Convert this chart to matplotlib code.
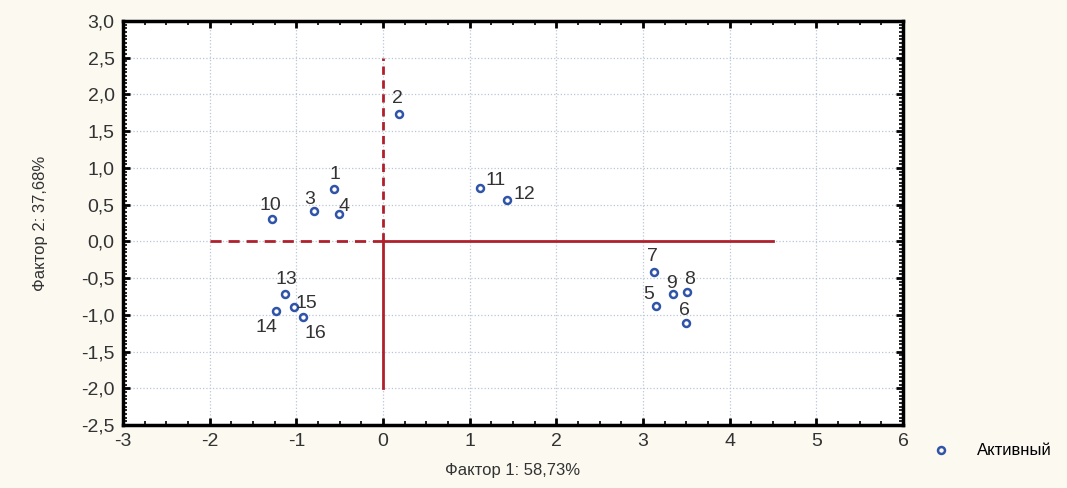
import matplotlib.pyplot as plt
from matplotlib.ticker import MultipleLocator, FuncFormatter

plt.rcParams['font.family'] = ['Liberation Sans', 'DejaVu Sans']

labels = ['1', '2', '3', '4', '5', '6', '7', '8', '9', '10', '11', '12', '13', '14', '15', '16']
f1 = [-0.57, 0.18, -0.80, -0.51, 3.15, 3.50, 3.13, 3.51, 3.35, -1.28, 1.12, 1.43, -1.13, -1.23, -1.03, -0.92]
f2 = [0.71, 1.73, 0.42, 0.37, -0.88, -1.11, -0.42, -0.69, -0.71, 0.31, 0.73, 0.56, -0.71, -0.95, -0.89, -1.03]

# label offsets in points (dx, dy)
offsets = {'1': (-3, 7), '2': (-5, 8), '3': (-7, 5), '4': (0, 2), '5': (-9, 5), '6': (-5, 6),
           '7': (-5, 8), '8': (-2, 6), '9': (-5, 4), '10': (-9, 6), '11': (4, 2), '12': (5, 1),
           '13': (-7, 7), '14': (-15, -15), '15': (1, -1), '16': (1, -15)}

red = '#b0202c'

fig = plt.figure(figsize=(10.67, 4.88), dpi=100, facecolor='#fcf9f1')
ax = fig.add_axes([0.1153, 0.129, 0.731, 0.828])
ax.set_facecolor('white')

ax.set_xlim(-3, 6)
ax.set_ylim(-2.5, 3.0)

ax.grid(True, color='#b9c6d6', linestyle=':', linewidth=0.9)
ax.set_axisbelow(True)

# factor axes
ax.plot([0, 0], [-2.0, 0], color=red, linewidth=2)
ax.plot([0, 0], [0, 2.5], color=red, linewidth=2, linestyle=(0, (3, 2)))
ax.plot([0, 4.5], [0, 0], color=red, linewidth=2)
ax.plot([-2, 0], [0, 0], color=red, linewidth=2, linestyle=(0, (4, 2.5)))

ax.plot(f1, f2, 'o', markersize=5, markerfacecolor='none', markeredgecolor='#2f54a8',
        markeredgewidth=1.8, label='Активный', clip_on=False)

for lab, x, y in zip(labels, f1, f2):
    dx, dy = offsets[lab]
    ax.annotate(lab, (x, y), xytext=(dx, dy), textcoords='offset points',
                fontsize=14, color='#333333')

ax.xaxis.set_major_locator(MultipleLocator(1))
ax.yaxis.set_major_locator(MultipleLocator(0.5))
ax.xaxis.set_minor_locator(MultipleLocator(0.25))
ax.yaxis.set_minor_locator(MultipleLocator(0.05))
ax.yaxis.set_major_formatter(FuncFormatter(lambda v, p: f'{v:.1f}'.replace('.', ',')))
ax.xaxis.set_major_formatter(FuncFormatter(lambda v, p: f'{v:.0f}'))

ax.tick_params(which='both', direction='in', top=True, right=True, color='black')
ax.tick_params(which='major', length=5, width=2, labelsize=14, labelcolor='#333333', pad=6)
ax.tick_params(which='minor', length=3, width=1.2)
for s in ax.spines.values():
    s.set_linewidth(2.5)

ax.set_xlabel('Фактор 1: 58,73%', fontsize=12, color='#333333', labelpad=9)
ax.set_ylabel('Фактор 2: 37,68%', fontsize=12, color='#333333', labelpad=24)

fig.legend(loc='lower right', bbox_to_anchor=(1.0, 0.03), frameon=False, fontsize=12,
           handletextpad=1.2)

fig.savefig('out.png', dpi=100, facecolor=fig.get_facecolor())
